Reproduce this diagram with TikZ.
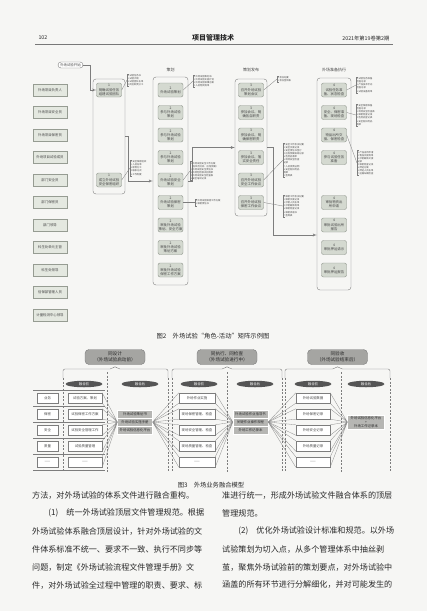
\documentclass[tikz,border=0pt]{standalone}
\usepackage{fontspec}
\setmainfont{Noto Sans CJK SC}
\usepackage{tikz}
\usetikzlibrary{arrows,positioning,shapes.geometric}
\XeTeXlinebreaklocale "zh"
\XeTeXlinebreakskip=0pt plus 2pt

\definecolor{paper}{RGB}{246,246,244}
\definecolor{inkgray}{RGB}{70,70,70}
\definecolor{bodyink}{RGB}{40,40,40}
\definecolor{rolefill}{RGB}{228,232,224}
\definecolor{roleedge}{RGB}{150,156,146}
\definecolor{actfill}{RGB}{212,217,208}
\definecolor{actedge}{RGB}{140,146,137}
\definecolor{laneedge}{RGB}{125,125,125}
\definecolor{phasefill}{RGB}{165,165,162}
\definecolor{tagfill}{RGB}{85,85,85}
\definecolor{fusefill}{RGB}{182,182,179}
\definecolor{fangray}{RGB}{140,140,140}
\definecolor{rulegray}{RGB}{120,120,120}

\newcommand\figfont{\fontsize{3.4}{4.1}\selectfont}
\newcommand\memofont{\fontsize{2.3}{3.1}\selectfont}
\newcommand\lanefont{\fontsize{4}{5}\selectfont}
\newcommand\phasefont{\fontsize{4.6}{6}\selectfont}
\newcommand\itemfont{\fontsize{3.4}{4}\selectfont}
\newcommand\capfont{\fontsize{6.3}{7}\selectfont}
\newcommand\bodyfont{\fontsize{8.1}{10}\selectfont}
\newcommand\headfont{\fontsize{5.3}{6}\selectfont}
\newcommand\titlefont{\fontsize{7}{8}\selectfont\bfseries}
\newcommand\fullline[1]{\makebox[172pt][s]{#1}}

\begin{document}
\begin{tikzpicture}[
    x=1pt, y=-1pt,
    >=latex',
    node distance=22.5pt,
    pill/.style={
        rectangle,
        rounded corners=3pt,
        draw=laneedge,
        fill=white,
        minimum width=25pt,
        minimum height=6pt,
        inner sep=0.3pt,
        font=\figfont,
        text=inkgray
    },
    role/.style={
        rectangle,
        draw=roleedge,
        fill=rolefill,
        minimum width=34pt,
        minimum height=12pt,
        inner sep=0.3pt,
        font=\figfont,
        text=inkgray
    },
    act/.style={
        rectangle,
        rounded corners=2pt,
        draw=actedge,
        fill=actfill,
        align=center,
        minimum width=25pt,
        minimum height=14pt,
        inner sep=0.3pt,
        font=\figfont,
        text=inkgray
    },
    lane/.style={
        rectangle,
        rounded corners=3pt,
        draw=laneedge,
        line width=0.4pt
    },
    lanehead/.style={
        font=\lanefont,
        text=inkgray
    },
    memo/.style={
        anchor=west,
        align=left,
        inner sep=0.4pt,
        font=\memofont,
        text=inkgray
    },
    memolink/.style={draw=laneedge, line width=0.3pt},
    flow/.style={draw=laneedge, line width=0.4pt, ->},
    phase/.style={
        rectangle,
        rounded corners=4pt,
        draw=laneedge,
        fill=phasefill,
        align=center,
        minimum width=60pt,
        minimum height=15pt,
        inner sep=0.5pt,
        font=\phasefont,
        text=bodyink
    },
    tag/.style={
        ellipse,
        fill=tagfill,
        text=white,
        minimum width=37pt,
        minimum height=6.5pt,
        inner sep=0pt,
        font=\itemfont
    },
    kind/.style={
        rectangle,
        draw=laneedge,
        fill=white,
        minimum width=21pt,
        minimum height=10pt,
        inner sep=0.3pt,
        font=\itemfont,
        text=inkgray
    },
    item/.style={
        rectangle,
        draw=laneedge,
        fill=white,
        minimum width=34pt,
        minimum height=10pt,
        inner sep=0.3pt,
        font=\itemfont,
        text=inkgray
    },
    fuse/.style={
        rectangle,
        draw=white,
        line width=0.3pt,
        fill=fusefill,
        align=center,
        minimum width=35pt,
        minimum height=8pt,
        inner sep=0.3pt,
        font=\itemfont,
        text=bodyink
    },
    fan/.style={draw=fangray, line width=0.3pt},
    brace/.style={draw=laneedge, line width=0.4pt, rounded corners=2pt},
    divider/.style={draw=laneedge, line width=0.4pt, dash pattern=on 2pt off 1.5pt},
    rowline/.style={draw=laneedge, line width=0.3pt},
    bodyline/.style={anchor=west, inner sep=0pt, font=\bodyfont, text=bodyink},
    caption/.style={font=\capfont, text=bodyink}
  ]

% page
\fill[paper] (0,0) rectangle (427,611);
\useasboundingbox (0,0) rectangle (427,611);

% // running head
\node[anchor=west, font=\headfont, text=bodyink] (pageno) at (35,38) {102};
\node[font=\titlefont, text=bodyink] (journal) at (213,38) {项目管理技术};
\node[anchor=east, font=\headfont, text=bodyink] (issue) at (393,38) {2021年第19卷第2期};
\draw[rulegray, line width=1pt] (35,44) -- (393,44);

% // Figure 2: roles
\node[pill] (start) at (70.5,65) {外场试验开始};

\node[role] (role1) at (50,90) {外场项目负责人};
\node[role, below of=role1] (role2) {外场项目安全员};
\node[role, below of=role2] (role3) {外场项目保密员};
\node[role, below of=role3] (role4) {外场项目试验成员};
\node[role, below of=role4] (role5) {部门安全员};
\node[role, below of=role5] (role6) {部门保密员};
\node[role, below of=role6] (role7) {部门领导};
\node[role, below of=role7] (role8) {科生处单元主管};
\node[role, below of=role8] (role9) {科生处领导};
\node[role, below of=role9] (role10) {信保部管理人员};
\node[role, below of=role10] (role11) {计量检测中心领导};

% // lanes
\node[lane, minimum width=32pt, minimum height=115pt] (lane1) at (109,136.5) {};
\node[lane, minimum width=35pt, minimum height=208pt] (lane2) at (170.5,181) {};
\node[lane, minimum width=32pt, minimum height=137pt] (lane3) at (251,147.5) {};
\node[lane, minimum width=34pt, minimum height=212pt] (lane4) at (334,184) {};

\node[lanehead] (head2) at (170.5,70) {策划};
\node[lanehead] (head3) at (251,70) {策划发布};
\node[lanehead] (head4) at (334,70) {外场准备执行};

% lane 1
\node[act] (act1a) at (109,90) {1\\明确试验任务\\组建试验团队};
\node[act] (act1b) at (109,180) {1\\成立外场试验\\安全保密组织};

% lane 2
\node[act] (act2a) at (170.5,90) {2\\外场试验策划};
\node[act, below of=act2a] (act2b) {2\\参与外场试验\\策划};
\node[act, below of=act2b] (act2c) {2\\参与外场试验\\策划};
\node[act, below of=act2c] (act2d) {2\\参与外场试验\\策划};
\node[act, below of=act2d] (act2e) {2\\外场试验安全\\策划};
\node[act, below of=act2e] (act2f) {2\\外场试验保密\\策划};
\node[act, below of=act2f] (act2g) {2\\审批外场试验\\策划、安全方案};
\node[act, below of=act2g] (act2h) {2\\审批外场试验\\策划方案};
\node[act, below of=act2h] (act2i) {2\\审批外场试验\\保密工作方案};

% lane 3
\node[act] (act3a) at (251,90) {3\\召开外场试验\\策划会议};
\node[act, below of=act3a] (act3b) {3\\参加会议、明\\确各自职责};
\node[act, below of=act3b] (act3c) {3\\参加会议、明\\确保密职责};
\node[act, below of=act3c] (act3d) {3\\参加会议、落\\实安全责任};
\node[act, below of=act3d] (act3e) {3\\召开外场试验\\安全工作会议};
\node[act, below of=act3e] (act3f) {3\\召开外场试验\\保密工作会议};

% lane 4
\node[act] (act4a) at (334,90) {4\\试验任务准\\备、状态检查};
\node[act, below of=act4a] (act4b) {4\\安全、保密准\\备、现场检查};
\node[act, below of=act4b] (act4c) {4\\物品出所交\\接、保密检查};
\node[act, below of=act4c] (act4d) {4\\参与试验任务\\准备};
\node[act, below of=act4d, yshift=-22.5pt] (act4e) {4\\审批物资出\\所申请};
\node[act, below of=act4e] (act4f) {4\\审批试验出所\\报告};
\node[act, below of=act4f] (act4g) {4\\审批押运请示};
\node[act, below of=act4g] (act4h) {4\\审批押运报告};

% flow between lanes
\draw[flow] (start.east) -- ++(7,0) |- (act1a.west);
\draw[flow] (lane1.east) -- ++(3,0) |- (lane2.west);
\draw[flow] (lane2.east) -- ++(4,0) |- (lane3.west);
\draw[flow] (lane3.east) -- ++(6,0) |- ([yshift=-51pt]lane4.west);

% // output records
\node[memo] (memo1a) at (127,80) {1.试验任务书\\2.试验大纲\\3.试验团队名单\\4.岗位职责分工};
\node[memo] (memo1b) at (130,168) {1.安全保密组织\\2.人员名单\\3.职责分工\\4.联系方式\\5.工作制度};
\node[memo] (memo2a) at (193,81) {1.外场试验策划书\\2.外场试验实施计划\\3.外场试验保障方案\\4.人员物资清单};
\node[memo] (memo2e) at (190,171) {1.外场试验安全工作方案\\（含风险分析、应急预案）\\2.外场试验安全责任书\\3.外场危险源识别清单\\4.外场试验安全检查表\\5.安全培训记录};
\node[memo] (memo2f) at (195,202.5) {1.外场试验保密工作方案\\2.保密责任书};
\node[memo] (memo3a) at (277,79) {1.会议纪要\\2.会议签到表};
\node[memo] (memo3e) at (283,160) {1.安全工作会议纪要\\2.安全交底记录\\3.安全责任书签订\\4.应急预案演练记录\\5.危险品清单\\6.现场安全检查\\记录\\7.人员资质证明\\8.安全防护用品\\清单\\9.签到表};
\node[memo] (memo3f) at (283,206) {1.保密工作会议纪要\\2.保密交底记录\\3.涉密人员名单\\4.涉密载体清单\\5.保密检查记录\\6.保密承诺书\\7.签到表};
\node[memo] (memo4a) at (356,85) {1.试验任务准备\\检查记录\\2.产品技术状态\\检查记录\\3.试验设备清单};
\node[memo] (memo4b) at (356,115) {1.安全保密准备\\检查记录\\2.现场安全检查表\\3.保密检查记录\\4.危险品登记表\\5.安全防护用品\\清单};
\node[memo] (memo4c) at (357,163) {1.产品出所申请\\2.物品交接清单\\3.涉密载体交接\\记录\\4.保密检查记录\\5.押运方案\\6.押运人员名单\\7.运输车辆检查};

\draw[memolink] (act1a.east) -- (memo1a.west);
\draw[memolink] (act1b.east) -- (memo1b.west);
\draw[memolink] (act2a.east) -- (memo2a.west);
\draw[memolink] (act2e.east) -- (memo2e.west);
\draw[memolink] (act2f.east) -- (memo2f.west);
\draw[memolink] (act3a.east) -- (memo3a.west);
\draw[memolink] (act3e.east) -- (memo3e.west);
\draw[memolink] (act3f.east) -- (memo3f.west);
\draw[memolink] (act4a.east) -- (memo4a.west);
\draw[memolink] (act4b.east) -- (memo4b.west);
\draw[memolink] (act4c.east) -- (memo4c.west);

% memo brackets
\draw[memolink] ([xshift=1.5pt]memo1a.north west) -- (memo1a.north west) -- (memo1a.south west) -- ([xshift=1.5pt]memo1a.south west);
\draw[memolink] ([xshift=1.5pt]memo1b.north west) -- (memo1b.north west) -- (memo1b.south west) -- ([xshift=1.5pt]memo1b.south west);
\draw[memolink] ([xshift=1.5pt]memo2a.north west) -- (memo2a.north west) -- (memo2a.south west) -- ([xshift=1.5pt]memo2a.south west);
\draw[memolink] ([xshift=1.5pt]memo2e.north west) -- (memo2e.north west) -- (memo2e.south west) -- ([xshift=1.5pt]memo2e.south west);
\draw[memolink] ([xshift=1.5pt]memo2f.north west) -- (memo2f.north west) -- (memo2f.south west) -- ([xshift=1.5pt]memo2f.south west);
\draw[memolink] ([xshift=1.5pt]memo3a.north west) -- (memo3a.north west) -- (memo3a.south west) -- ([xshift=1.5pt]memo3a.south west);
\draw[memolink] ([xshift=1.5pt]memo3e.north west) -- (memo3e.north west) -- (memo3e.south west) -- ([xshift=1.5pt]memo3e.south west);
\draw[memolink] ([xshift=1.5pt]memo3f.north west) -- (memo3f.north west) -- (memo3f.south west) -- ([xshift=1.5pt]memo3f.south west);
\draw[memolink] ([xshift=1.5pt]memo4a.north west) -- (memo4a.north west) -- (memo4a.south west) -- ([xshift=1.5pt]memo4a.south west);
\draw[memolink] ([xshift=1.5pt]memo4b.north west) -- (memo4b.north west) -- (memo4b.south west) -- ([xshift=1.5pt]memo4b.south west);
\draw[memolink] ([xshift=1.5pt]memo4c.north west) -- (memo4c.north west) -- (memo4c.south west) -- ([xshift=1.5pt]memo4c.south west);

\node[caption] (cap2) at (213,336) {图2\quad 外场试验“角色-活动”矩阵示例图};

% // Figure 3: phases
\node[phase] (phase1) at (115,357) {同设计\\（外场试验启动前）};
\node[phase] (phase2) at (227,357) {同执行、同检查\\（外场试验进行中）};
\node[phase] (phase3) at (337.5,357) {同验收\\（外场试验结束后）};

\draw[brace] (63,378) |- (112,369) -- (115,366) -- (118,369) -| (168,378);
\draw[brace] (172,378) |- (224,369) -- (227,366) -- (230,369) -| (282,378);
\draw[brace] (285,378) |- (334.5,369) -- (337.5,366) -- (340.5,369) -| (390,378);

\draw[divider] (63,378) -- (63,472);
\draw[divider] (107,372) -- (107,472);
\draw[divider] (168,378) -- (168,472);
\draw[divider] (172,378) -- (172,472);
\draw[divider] (227,372) -- (227,472);
\draw[divider] (282,378) -- (282,472);
\draw[divider] (285,378) -- (285,472);
\draw[divider] (341,372) -- (341,472);
\draw[divider] (390,378) -- (390,472);

\node[tag] (tag1a) at (84,384) {融合前};
\node[tag] (tag1b) at (140,384) {融合后};
\node[tag] (tag2a) at (199,384) {融合前};
\node[tag] (tag2b) at (255,384) {融合后};
\node[tag] (tag3a) at (313,384) {融合前};
\node[tag] (tag3b) at (366,384) {融合后};

% row rules
\draw[rowline] (33,390) -- (105,390);
\draw[rowline] (33,406) -- (105,406);
\draw[rowline] (33,422) -- (105,422);
\draw[rowline] (33,438) -- (105,438);
\draw[rowline] (33,454) -- (105,454);
\draw[rowline] (33,470) -- (105,470);

\node[kind] (kind1) at (47.5,398) {业务};
\node[kind, below of=kind1, yshift=6.5pt] (kind2) {保密};
\node[kind, below of=kind2, yshift=6.5pt] (kind3) {安全};
\node[kind, below of=kind3, yshift=6.5pt] (kind4) {质量};
\node[kind, below of=kind4, yshift=6.5pt] (kind5) {——};

% before merge, phase 1
\node[item] (item1a) at (85,398) {试验方案、策划};
\node[item, below of=item1a, yshift=6.5pt] (item1b) {试验保密工作方案};
\node[item, below of=item1b, yshift=6.5pt] (item1c) {试验安全管理工作};
\node[item, below of=item1c, yshift=6.5pt] (item1d) {试验质量管理};
\node[item, below of=item1d, yshift=6.5pt] (item1e) {——};

% before merge, phase 2
\node[item, minimum width=36pt] (item2a) at (197,398) {外场作业实施};
\node[item, minimum width=36pt, below of=item2a, yshift=6.5pt] (item2b) {现场保密管理、检查};
\node[item, minimum width=36pt, below of=item2b, yshift=6.5pt] (item2c) {现场安全管理、检查};
\node[item, minimum width=36pt, below of=item2c, yshift=6.5pt] (item2d) {现场质量管理、检查};
\node[item, minimum width=36pt, below of=item2d, yshift=6.5pt] (item2e) {——};

% before merge, phase 3
\node[item] (item3a) at (313,398) {外场试验数据};
\node[item, below of=item3a, yshift=6.5pt] (item3b) {外场保密记录};
\node[item, below of=item3b, yshift=6.5pt] (item3c) {外场安全记录};
\node[item, below of=item3c, yshift=6.5pt] (item3d) {外场质量记录};
\node[item, below of=item3d, yshift=6.5pt] (item3e) {——};

% after merge
\node[fuse] (fuse1a) at (135,414) {外场试验策划书};
\node[fuse] (fuse1b) at (135,422) {外场试验实施手册};
\node[fuse] (fuse1c) at (135,430) {外场试验信息化平台};
\node[fuse] (fuse2a) at (250.5,414) {外场试验作业指导书};
\node[fuse] (fuse2b) at (250.5,422) {关键作业操作规程};
\node[fuse] (fuse2c) at (250.5,430) {外场工作记录本};
\node[fuse, minimum width=37pt, minimum height=14pt] (fuse3) at (366,422) {外场试验信息化平台\\+\\外场工作记录本};

% converging lines
\draw[fan] (item1a.north east) -- (fuse1b.west) (item1a.south east) -- (fuse1b.west);
\draw[fan] (item1b.north east) -- (fuse1b.west) (item1b.south east) -- (fuse1b.west);
\draw[fan] (item1c.north east) -- (fuse1b.west) (item1c.south east) -- (fuse1b.west);
\draw[fan] (item1d.north east) -- (fuse1b.west) (item1d.south east) -- (fuse1b.west);
\draw[fan] (item1e.north east) -- (fuse1b.west) (item1e.south east) -- (fuse1b.west);

\draw[fan] (fuse1b.east) -- (item2a.north west) (fuse1b.east) -- (item2a.south west);
\draw[fan] (fuse1b.east) -- (item2b.north west) (fuse1b.east) -- (item2b.south west);
\draw[fan] (fuse1b.east) -- (item2c.north west) (fuse1b.east) -- (item2c.south west);
\draw[fan] (fuse1b.east) -- (item2d.north west) (fuse1b.east) -- (item2d.south west);
\draw[fan] (fuse1b.east) -- (item2e.north west) (fuse1b.east) -- (item2e.south west);

\draw[fan] (item2a.north east) -- (fuse2b.west) (item2a.south east) -- (fuse2b.west);
\draw[fan] (item2b.north east) -- (fuse2b.west) (item2b.south east) -- (fuse2b.west);
\draw[fan] (item2c.north east) -- (fuse2b.west) (item2c.south east) -- (fuse2b.west);
\draw[fan] (item2d.north east) -- (fuse2b.west) (item2d.south east) -- (fuse2b.west);
\draw[fan] (item2e.north east) -- (fuse2b.west) (item2e.south east) -- (fuse2b.west);

\draw[fan] (fuse2b.east) -- (item3a.north west) (fuse2b.east) -- (item3a.south west);
\draw[fan] (fuse2b.east) -- (item3b.north west) (fuse2b.east) -- (item3b.south west);
\draw[fan] (fuse2b.east) -- (item3c.north west) (fuse2b.east) -- (item3c.south west);
\draw[fan] (fuse2b.east) -- (item3d.north west) (fuse2b.east) -- (item3d.south west);
\draw[fan] (fuse2b.east) -- (item3e.north west) (fuse2b.east) -- (item3e.south west);

\draw[fan] (item3a.north east) -- (fuse3.west) (item3a.south east) -- (fuse3.west);
\draw[fan] (item3b.north east) -- (fuse3.west) (item3b.south east) -- (fuse3.west);
\draw[fan] (item3c.north east) -- (fuse3.west) (item3c.south east) -- (fuse3.west);
\draw[fan] (item3d.north east) -- (fuse3.west) (item3d.south east) -- (fuse3.west);
\draw[fan] (item3e.north east) -- (fuse3.west) (item3e.south east) -- (fuse3.west);

\node[caption] (cap3) at (211,485) {图3\quad 外场业务融合模型};

% // body text
\node[bodyline] (left1) at (32,495) {方法，对外场试验的体系文件进行融合重构。};
\node[bodyline] (left2) at (32,513) {\fullline{\hspace*{2em}(1) 统一外场试验顶层文件管理规范。根据}};
\node[bodyline] (left3) at (32,531) {\fullline{外场试验体系融合顶层设计，针对外场试验的文}};
\node[bodyline] (left4) at (32,549) {\fullline{件体系标准不统一、要求不一致、执行不同步等}};
\node[bodyline] (left5) at (32,567) {\fullline{问题，制定《外场试验流程文件管理手册》文}};
\node[bodyline] (left6) at (32,585) {\fullline{件，对外场试验全过程中管理的职责、要求、标}};

\node[bodyline] (right1) at (222,495) {\fullline{准进行统一，形成外场试验文件融合体系的顶层}};
\node[bodyline] (right2) at (222,513) {管理规范。};
\node[bodyline] (right3) at (222,531) {\fullline{\hspace*{2em}(2) 优化外场试验设计标准和规范。以外场}};
\node[bodyline] (right4) at (222,549) {\fullline{试验策划为切入点，从多个管理体系中抽丝剥}};
\node[bodyline] (right5) at (222,567) {\fullline{茧，聚焦外场试验前的策划要点，对外场试验中}};
\node[bodyline] (right6) at (222,585) {\fullline{涵盖的所有环节进行分解细化，并对可能发生的}};

\end{tikzpicture}
\end{document}
